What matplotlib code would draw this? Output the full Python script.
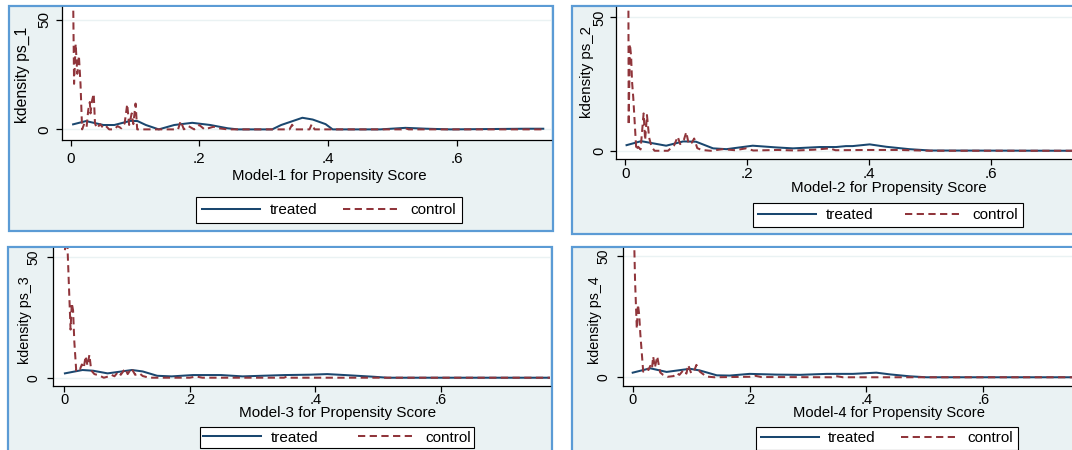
import matplotlib
matplotlib.use("Agg")
import matplotlib.pyplot as plt
from matplotlib.patches import Rectangle
from matplotlib.lines import Line2D

plt.rcParams['font.family'] = ['Liberation Sans', 'DejaVu Sans']

# kdensity curves (x = propensity score, y = density)
t1_x = [0.004, 0.024, 0.051, 0.068, 0.093, 0.104, 0.117, 0.137, 0.161, 0.189, 0.217, 0.244, 0.26,
        0.313, 0.327, 0.36, 0.376, 0.396, 0.407, 0.481, 0.52, 0.553, 0.59, 0.707, 0.734]
t1_y = [2.3, 3.8, 2.0, 2.0, 3.9, 3.8, 2.0, 0.0, 2.0, 3.0, 2.0, 0.5, 0.0,
        0.0, 2.0, 5.3, 4.5, 2.4, 0.0, 0.0, 0.7, 0.3, 0.0, 0.3, 0.3]
c1_x = [0.004, 0.0055, 0.008, 0.0105, 0.013, 0.0155, 0.018, 0.0215, 0.025, 0.0275, 0.03, 0.031,
        0.0335, 0.036, 0.038, 0.041, 0.046, 0.05, 0.054, 0.06, 0.068, 0.073, 0.079, 0.084, 0.088,
        0.091, 0.095, 0.0975, 0.101, 0.1035, 0.167, 0.171, 0.176, 0.183, 0.192, 0.2, 0.208,
        0.222, 0.23, 0.244, 0.34, 0.344, 0.349, 0.371, 0.3745, 0.379, 0.514, 0.52, 0.525, 0.735]
c1_y = [62, 20.8, 39, 25.4, 33.7, 20.8, 0.0, 2.7, 1.2, 8.8, 12.5, 7.3,
        13.3, 16.3, 2.7, 0.5, 2.4, 0.9, 1.8, 0.0, 0.0, 1.5, 0.5, 2.7, 11.5,
        2.0, 7.3, 2.4, 11.8, 0.0, 0.0, 3.8, 0.0, 1.5, 0.0, 2.0, 0.0,
        1.2, 0.5, 0.0, 0.0, 2.1, 0.0, 0.0, 2.4, 0.0, 0.0, 0.5, 0.0, 0.0]

t2_x = [0.002, 0.026, 0.067, 0.095, 0.116, 0.144, 0.166, 0.209, 0.248, 0.275, 0.319, 0.346,
        0.362, 0.373, 0.401, 0.428, 0.466, 0.5, 0.74]
t2_y = [2.1, 3.6, 1.9, 3.5, 3.4, 0.9, 0.6, 1.9, 1.25, 0.9, 1.4, 1.4,
        1.75, 1.75, 2.4, 1.5, 0.6, 0.1, 0.0]
c2_x = [0.005, 0.0055, 0.0075, 0.0095, 0.011, 0.013, 0.018, 0.021, 0.025, 0.03, 0.0325, 0.0355,
        0.039, 0.043, 0.048, 0.07, 0.08, 0.086, 0.09, 0.096, 0.1, 0.104, 0.109, 0.113, 0.118,
        0.125, 0.14, 0.16, 0.18, 0.198, 0.21, 0.25, 0.28, 0.31, 0.335, 0.345, 0.4, 0.45, 0.5, 0.74]
c2_y = [62, 9.6, 40, 35.5, 26, 20, 0.2, 1.5, 0.5, 14, 4, 13.4,
        5, 1.5, 0.0, 0.0, 2, 5.3, 2.5, 4, 7, 2.5, 3, 4.6, 1,
        0.3, 0.0, 0.6, 0.2, 0.9, 0.1, 0.3, 0.1, 0.4, 0.9, 0.2, 0.3, 0.3, 0.0, 0.0]

t3_x = [0.001, 0.029, 0.046, 0.069, 0.108, 0.125, 0.148, 0.171, 0.205, 0.25, 0.284, 0.351,
        0.391, 0.419, 0.447, 0.493, 0.515, 0.78]
t3_y = [1.8, 3.2, 2.9, 1.8, 3.2, 2.6, 0.8, 0.55, 1.1, 1.1, 0.55, 1.1,
        1.25, 1.5, 1.1, 0.4, 0.0, 0.0]
c3_x = [0.001, 0.004, 0.01, 0.012, 0.014, 0.016, 0.019, 0.022, 0.025, 0.028, 0.031, 0.034,
        0.037, 0.04, 0.043, 0.048, 0.055, 0.063, 0.07, 0.075, 0.08, 0.086, 0.09, 0.097, 0.101,
        0.107, 0.113, 0.12, 0.125, 0.135, 0.2, 0.21, 0.22, 0.35, 0.355, 0.36, 0.78]
c3_y = [53, 62, 20, 31, 28, 15, 3, 4, 3.5, 5.5, 4, 9,
        5, 9.5, 3, 1.5, 1, 0.0, 0.5, 1.2, 0.6, 2.5, 1.2, 3.8, 1.5,
        3.9, 1.2, 1.8, 0.7, 0.0, 0.0, 0.5, 0.0, 0.0, 0.5, 0.0, 0.0]

t4_x = [0.0, 0.03, 0.058, 0.098, 0.115, 0.144, 0.166, 0.2, 0.246, 0.286, 0.332, 0.377,
        0.417, 0.44, 0.474, 0.503, 0.76]
t4_y = [1.9, 3.7, 2.2, 3.5, 2.8, 0.8, 0.7, 1.4, 1.1, 1.0, 1.4, 1.4,
        1.9, 1.2, 0.4, 0.0, 0.0]
c4_x = [0.002, 0.004, 0.007, 0.009, 0.011, 0.013, 0.018, 0.024, 0.027, 0.03, 0.033, 0.035,
        0.038, 0.042, 0.047, 0.052, 0.06, 0.07, 0.075, 0.08, 0.087, 0.092, 0.095, 0.1, 0.105,
        0.109, 0.115, 0.126, 0.14, 0.2, 0.21, 0.22, 0.34, 0.35, 0.36, 0.76]
c4_y = [62, 40, 20, 30, 26, 18, 2.3, 3.7, 3, 4.7, 3.5, 8.6,
        4, 8.6, 2, 1, 0.2, 0.5, 1.7, 1, 3, 1.5, 5.1, 1.7, 2.5,
        5.1, 2.3, 0.3, 0.0, 0.2, 0.6, 0.1, 0.0, 0.4, 0.0, 0.0]

x_ticks = [0, 0.2, 0.4, 0.6]
x_tick_labels = ['0', '.2', '.4', '.6']
y_ticks = [0, 50]
y_tick_labels = ['0', '50']

W, H = 1072, 450
fig = plt.figure(figsize=(W / 100, H / 100), dpi=100)

navy = '#1a476f'
maroon = '#90353b'
panel_bg = '#eaf2f3'
border = '#5b9bd5'


def fbox(x0, y0, x1, y1):
    # pixel box (top-left origin) -> figure fraction [left, bottom, w, h]
    return [x0 / W, 1 - y1 / H, (x1 - x0) / W, (y1 - y0) / H]


def fpt(x, y):
    return x / W, 1 - y / H


# the four panels were pasted in at slightly different scales, so each gets its own geometry
panels = [
    dict(frame=(8.5, 6, 552.7, 231), axes=(61.7, 7, 551, 140),
         xlim=(-0.0137, 0.746), ylim=(-4.85, 55.9),
         xfs_t=11, xpad=4.4, ypad=3.5, yfs=11, xfs=10.8,
         ylab=(22, 75), xlab=(329.5, 175.7),
         leg=(329, 210), colsp=1.7, bpad=0.42,
         t=(t1_x, t1_y), c=(c1_x, c1_y), name='1'),
    dict(frame=(572.3, 6, 1090, 234), axes=(615.7, 7, 1072, 159.3),
         xlim=(-0.0158, 0.733), ylim=(-3.2, 53.9),
         xfs_t=11, xpad=1.4, ypad=2.9, yfs=10.5, xfs=10.9,
         ylab=(586.7, 72.5), xlab=(888.5, 188.3),
         leg=(888, 215), colsp=2.1, bpad=0.35,
         t=(t2_x, t2_y), c=(c2_x, c2_y), name='2'),
    dict(frame=(8.3, 246.7, 551.7, 470), axes=(53.3, 248, 550, 386.3),
         xlim=(-0.0175, 0.774), ylim=(-3.57, 53.9),
         xfs_t=10.5, xpad=0.6, ypad=5.0, yfs=10, xfs=11,
         ylab=(25, 320.5), xlab=(338, 413.5),
         leg=(337, 437.5), colsp=2.6, bpad=0.22,
         t=(t3_x, t3_y), c=(c3_x, c3_y), name='3'),
    dict(frame=(572.3, 246.7, 1090, 470), axes=(623.3, 248, 1072, 386),
         xlim=(-0.0161, 0.752), ylim=(-3.6, 53.3),
         xfs_t=10.5, xpad=0.8, ypad=5.0, yfs=10, xfs=10.6,
         ylab=(595, 320), xlab=(889, 413.5),
         leg=(887, 438.5), colsp=1.65, bpad=0.28,
         t=(t4_x, t4_y), c=(c4_x, c4_y), name='4'),
]

dash = (0, (3.6, 2.2))
lw = 1.45

for p in panels:
    x0, y0, x1, y1 = p['frame']
    l, b, w, h = fbox(x0, y0, x1, y1)
    fig.patches.append(Rectangle((l, b), w, h, transform=fig.transFigure,
                                 facecolor=panel_bg, edgecolor=border, lw=1.6, zorder=-5))

    ax = fig.add_axes(fbox(*p['axes']))
    ax.set_facecolor('white')
    for s in ['top', 'right']:
        ax.spines[s].set_visible(False)
    for s in ['left', 'bottom']:
        ax.spines[s].set_linewidth(0.9)
        ax.spines[s].set_color('black')

    for yv in y_ticks:
        ax.axhline(yv, color=panel_bg, lw=1.0, zorder=1)

    ax.plot(p['t'][0], p['t'][1], color=navy, lw=lw, zorder=3)
    ax.plot(p['c'][0], p['c'][1], color=maroon, lw=lw, linestyle=dash, zorder=4)

    ax.set_xlim(*p['xlim'])
    ax.set_ylim(*p['ylim'])
    ax.set_xticks(x_ticks)
    ax.set_xticklabels(x_tick_labels)
    ax.set_yticks(y_ticks)
    ax.set_yticklabels(y_tick_labels, rotation=90, va='center')
    ax.tick_params(direction='out', length=4.1, width=0.9)
    ax.tick_params(axis='x', labelsize=p['xfs_t'], pad=p['xpad'])
    ax.tick_params(axis='y', labelsize=p['yfs'], pad=p['ypad'])

    fig.text(*fpt(*p['xlab']), f"Model-{p['name']} for Propensity Score",
             fontsize=p['xfs'], ha='center', va='center')
    fig.text(*fpt(*p['ylab']), f"kdensity ps_{p['name']}", fontsize=p['yfs'] + 0.3,
             rotation=90, ha='center', va='center')

    handles = [Line2D([], [], color=navy, lw=lw),
               Line2D([], [], color=maroon, lw=lw, linestyle=dash)]
    leg = ax.legend(handles, ['treated', 'control'], loc='center',
                    bbox_to_anchor=fpt(*p['leg']), bbox_transform=fig.transFigure,
                    ncol=2, frameon=True, fancybox=False, framealpha=1, edgecolor='black',
                    fontsize=11, handlelength=3.8, handletextpad=0.6,
                    columnspacing=p['colsp'], borderpad=p['bpad'], borderaxespad=0)
    leg.get_frame().set_linewidth(0.8)

fig.savefig('out.png', dpi=100, facecolor='white')
